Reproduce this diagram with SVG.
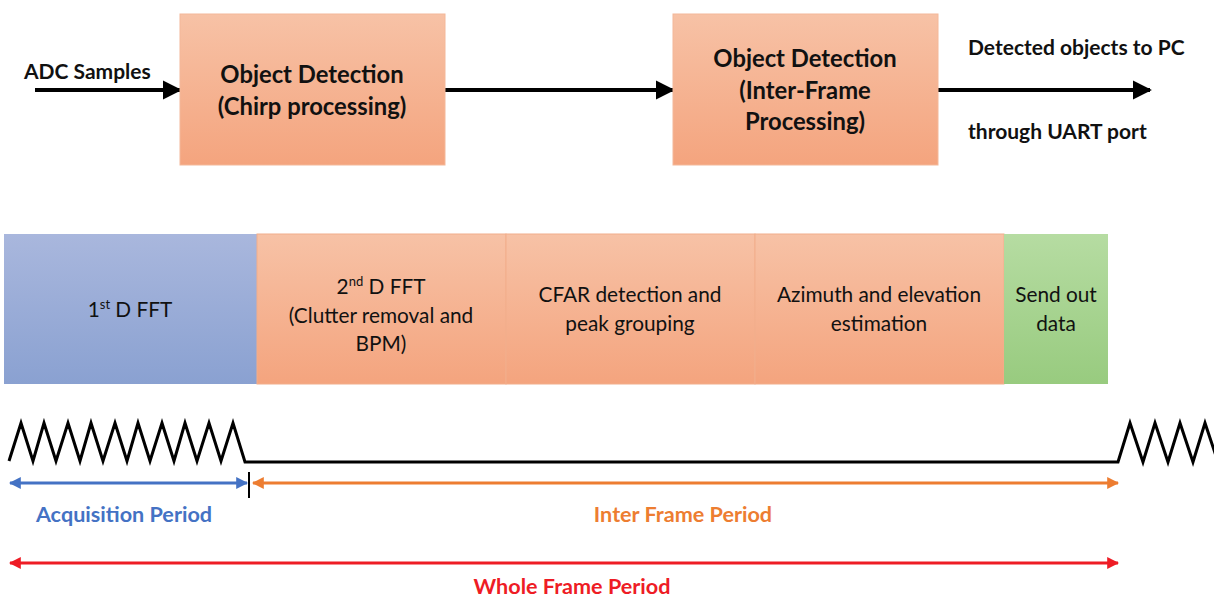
<svg xmlns="http://www.w3.org/2000/svg" width="1214" height="598" viewBox="0 0 1214 598">
<defs>
<linearGradient id="gOr" x1="0" y1="0" x2="0" y2="1"><stop offset="0" stop-color="#F7C2A6"/><stop offset="1" stop-color="#F4A47E"/></linearGradient>
<linearGradient id="gBl" x1="0" y1="0" x2="0" y2="1"><stop offset="0" stop-color="#A9B7DD"/><stop offset="1" stop-color="#8AA1D1"/></linearGradient>
<linearGradient id="gGr" x1="0" y1="0" x2="0" y2="1"><stop offset="0" stop-color="#B6DCA2"/><stop offset="1" stop-color="#98CB7F"/></linearGradient>
<marker id="mk" viewBox="0 0 10 10" refX="9" refY="5" markerWidth="4.8" markerHeight="4.8" orient="auto-start-reverse" markerUnits="strokeWidth"><path d="M0,0 L10,5 L0,10 z" fill="#000"/></marker>
<marker id="mb" viewBox="0 0 10 10" refX="9" refY="5" markerWidth="4" markerHeight="4" orient="auto-start-reverse" markerUnits="strokeWidth"><path d="M0,0 L10,5 L0,10 z" fill="#4472C4"/></marker>
<marker id="mo" viewBox="0 0 10 10" refX="9" refY="5" markerWidth="4" markerHeight="4" orient="auto-start-reverse" markerUnits="strokeWidth"><path d="M0,0 L10,5 L0,10 z" fill="#ED7D31"/></marker>
<marker id="mr" viewBox="0 0 10 10" refX="9" refY="5" markerWidth="4" markerHeight="4" orient="auto-start-reverse" markerUnits="strokeWidth"><path d="M0,0 L10,5 L0,10 z" fill="#EE1C25"/></marker>
</defs>
<style>
text{font-family:Lato,"Open Sans","Liberation Sans",sans-serif;fill:#111}
.b{font-weight:bold;font-size:23.8px}
.lb{font-weight:bold;font-size:21px}
.r{font-size:20.8px;text-anchor:middle}
.c{text-anchor:middle}
.box{fill:url(#gOr);stroke:#F4B899;stroke-width:1}
.seg{stroke:#F2AE8B;stroke-width:1}
.ar{stroke:#000;stroke-width:4;fill:none;marker-end:url(#mk)}
.zz{stroke:#000;stroke-width:3;fill:none;stroke-linejoin:miter}
.per{font-weight:bold;font-size:21.6px;text-anchor:middle}
</style>
<rect width="1214" height="598" fill="#fff"/>

<g id="connectors">
<line class="ar" x1="35" y1="90" x2="180" y2="90"/>
<line class="ar" x1="445" y1="90" x2="673" y2="90"/>
<line class="ar" x1="938" y1="90" x2="1150" y2="90"/>
<line x1="10" y1="483" x2="247" y2="483" stroke="#4472C4" stroke-width="3" marker-start="url(#mb)" marker-end="url(#mb)"/>
<line x1="253" y1="483" x2="1118" y2="483" stroke="#ED7D31" stroke-width="3" marker-start="url(#mo)" marker-end="url(#mo)"/>
<line x1="10" y1="563" x2="1118" y2="563" stroke="#EE1C25" stroke-width="3" marker-start="url(#mr)" marker-end="url(#mr)"/>
<line x1="249" y1="472" x2="249" y2="498" stroke="#000" stroke-width="2"/>
</g>

<g id="adc-label"><text class="lb" x="24" y="79">ADC Samples</text></g>

<g id="chirp-processing">
<rect class="box" x="180" y="14" width="265" height="151"/>
<text class="b c" x="312" y="83">Object Detection</text>
<text class="b c" x="312" y="115">(Chirp processing)</text>
</g>

<g id="inter-frame-processing">
<rect class="box" x="673" y="14" width="265" height="151"/>
<text class="b c" x="805" y="67">Object Detection</text>
<text class="b c" x="805" y="99">(Inter-Frame</text>
<text class="b c" x="805" y="130">Processing)</text>
</g>

<g id="output-label">
<text class="lb" x="968" y="55">Detected objects to PC</text>
<text class="lb" x="968" y="139">through UART port</text>
</g>

<g id="fft1">
<rect x="4" y="234" width="253" height="150" fill="url(#gBl)"/>
<text class="r" x="130" y="317">1<tspan font-size="13" dy="-8">st</tspan><tspan dy="8"> D FFT</tspan></text>
</g>
<g id="fft2">
<rect class="seg" x="257" y="234" width="249" height="150" fill="url(#gOr)"/>
<text class="r" x="381" y="294">2<tspan font-size="13" dy="-8">nd</tspan><tspan dy="8"> D FFT</tspan></text>
<text class="r" x="381" y="323">(Clutter removal and</text>
<text class="r" x="381" y="351">BPM)</text>
</g>
<g id="cfar">
<rect class="seg" x="506" y="234" width="249" height="150" fill="url(#gOr)"/>
<text class="r" x="630" y="302">CFAR detection and</text>
<text class="r" x="630" y="331">peak grouping</text>
</g>
<g id="azimuth">
<rect class="seg" x="755" y="234" width="249" height="150" fill="url(#gOr)"/>
<text class="r" x="879" y="302">Azimuth and elevation</text>
<text class="r" x="879" y="331">estimation</text>
</g>
<g id="send-out">
<rect x="1004" y="234" width="104" height="150" fill="url(#gGr)"/>
<text class="r" x="1056" y="302">Send out</text>
<text class="r" x="1056" y="331">data</text>
</g>

<g id="chirp-waveform">
<polyline class="zz" points="9,461 21,423 33,461 44,423 56,461 68,423 80,461 91,423 103,461 115,423 127,461 138,423 150,461 162,423 174,461 185,423 197,461 209,423 221,461 233,423 245,462 1118,462 1130,423 1143,462 1155,423 1168,462 1180,423 1193,462 1205,423 1218,462"/>
</g>

<g id="period-labels">
<text class="per" x="124" y="522" style="fill:#4472C4">Acquisition Period</text>
<text class="per" x="683" y="522" style="fill:#ED7D31">Inter Frame Period</text>
<text class="per" x="572" y="594" style="fill:#EE1C25">Whole Frame Period</text>
</g>
</svg>
